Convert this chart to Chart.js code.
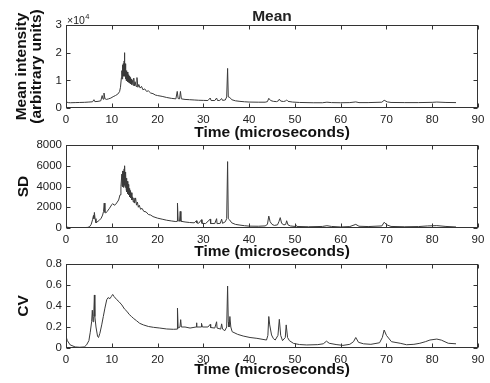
<!DOCTYPE html>
<html><head><meta charset="utf-8">
<script src="https://cdn.jsdelivr.net/npm/chart.js@4.4.1/dist/chart.umd.min.js"></script>
<style>
html,body{margin:0;padding:0;background:#fff;}
#wrap{position:relative;width:490px;height:383px;overflow:hidden;}
canvas{position:absolute;left:0;top:0;}
</style></head><body>
<div id="wrap">
<canvas id="c1" width="490" height="383"></canvas>
<canvas id="c2" width="490" height="383"></canvas>
<canvas id="c3" width="490" height="383"></canvas>
</div>
<script>
// ---------- DATA ----------
const timeTicks = [0,10,20,30,40,50,60,70,80,90];

const meanTime = [0,0.5,1,2,3,4,5,5.8,6.1,6.3,7,7.6,7.9,8.1,8.3,8.5,8.8,9.3,9.8,10.3,10.8,11.3,11.7,11.9,12.1,
 12.2,12.25,12.3,12.35,12.4,12.45,12.5,12.55,12.6,12.65,12.7,12.75,12.8,12.85,12.9,12.95,13.0,13.05,13.1,13.15,13.2,13.3,13.4,13.5,13.6,13.7,13.8,13.9,14.0,14.1,14.2,14.35,14.5,14.65,14.8,14.95,15.1,15.3,15.5,15.7,15.9,16.2,16.5,16.8,17.2,17.6,18,18.5,19,19.5,20,21,22,23,24,24.3,24.5,24.8,25.0,25.2,26,27,28,29,30,31,31.5,31.7,32.5,32.9,33.1,33.6,34,34.2,34.8,35.1,35.3,35.45,35.8,36.2,37,38,39,40,42,43.5,44.0,44.3,44.7,45.3,46,46.4,46.6,46.9,47.5,47.9,48.2,48.5,49.5,51,54,56,57,58,60,62,63.3,64,66,69,69.5,70.2,71,74,77,80,81,83,85.2];
const meanValues = [2200,1950,1900,1950,2000,2050,2150,2250,3000,2300,2400,2600,4500,3200,5400,3400,3100,3300,3600,4100,4500,5000,5900,7500,11000,
 13500,10500,14500,11000,15500,11500,16000,12000,15000,11500,17000,12000,20000,11500,16000,11000,15000,10500,14000,10000,13500,9800,13000,9500,12000,9300,11500,9000,11000,8800,10500,8500,10000,8200,10800,8000,9500,7800,11000,7500,8500,7200,7800,6600,6900,6000,6200,5400,5200,4700,4500,4200,3800,3500,3300,6000,3400,3300,6000,3300,3100,3000,2900,2800,2750,2700,3600,2700,2700,3600,2700,2750,3400,2750,2900,4000,14300,4000,3800,3000,2600,2400,2250,2150,2100,2100,2300,3500,2700,2400,2300,2600,3200,2500,2350,2500,2900,2400,2150,2000,1900,1900,2100,1950,1900,1950,2200,1950,1950,2100,2800,2200,2000,1950,1950,2050,2150,2000,1950];

const sdTime = [0,0.5,1,2,3,4,4.8,5.2,5.5,5.8,6.0,6.1,6.2,6.35,6.55,7.0,7.3,7.7,8.0,8.2,8.35,8.5,8.7,9.0,9.5,10.0,10.2,10.5,10.8,11.2,11.5,11.8,12.0,
 12.2,12.25,12.3,12.35,12.4,12.45,12.5,12.55,12.6,12.65,12.7,12.75,12.85,12.9,12.95,13.0,13.1,13.15,13.2,13.3,13.4,13.5,13.6,13.7,13.8,13.9,14.0,14.1,14.25,14.4,14.55,14.7,14.85,15.0,15.2,15.4,15.6,15.8,16.0,16.3,16.6,17.0,17.5,18.0,18.5,19.0,20,21,22,23,24,24.25,24.35,24.5,24.8,24.95,25.1,26,27,28,28.5,28.6,29,29.6,29.7,30.5,31.5,31.6,32.5,32.9,33.0,33.7,34.0,34.2,34.8,35.1,35.3,35.45,35.7,36.2,37,38,39,40,42,43.5,44.0,44.3,44.6,45.0,45.5,46.2,46.5,46.8,47.1,47.6,48.0,48.2,48.5,49,50,50.2,50.4,53,56,57,58,60,62,63.3,64,66,69,69.5,70.1,71,74,77,79,81,83,85.2];
const sdValues = [120,60,40,30,30,40,60,150,350,800,1200,900,1500,900,500,650,750,950,1250,1600,2400,1500,1450,1600,1900,2250,2350,2200,2250,2500,2700,3200,4000,
 5200,4000,5400,4100,5500,4000,5300,3900,5500,4200,5700,4100,6000,4000,5400,3900,5200,3700,4800,3500,4500,3300,4200,3200,3800,3000,3600,2900,3400,2700,3000,2500,2900,2400,2900,2200,2500,2000,2200,1800,1900,1600,1550,1300,1250,1100,950,850,750,680,620,650,2400,700,650,1600,650,580,530,500,700,480,460,800,450,430,850,430,430,900,420,450,850,450,600,900,6400,900,800,500,350,280,220,180,170,200,350,1150,600,350,250,300,600,1000,450,300,350,700,300,200,150,300,150,120,150,220,150,100,140,350,170,140,200,550,300,150,120,140,200,230,150,100];

const cvTime = [0,0.3,0.9,2,3,4,4.5,5.0,5.3,5.6,5.75,5.9,6.05,6.2,6.3,6.55,6.9,7.1,7.4,7.8,8.15,8.5,8.9,9.2,9.6,9.9,10.2,10.5,11.1,11.6,12.2,12.8,13.3,13.8,14.3,14.8,15.4,16.1,16.9,18,19.1,20.5,22,23.5,24.25,24.35,24.5,24.9,25.05,25.2,26,27.1,28.4,28.5,28.6,29.5,29.6,29.8,31,31.5,31.6,32.5,32.9,33.0,33.8,34.0,34.2,34.7,35.1,35.3,35.45,35.6,35.8,36.0,36.3,37.5,38.7,40.2,41.7,43.8,44.1,44.3,44.5,44.9,45.3,45.7,46.3,46.6,46.9,47.3,47.9,48.1,48.4,48.8,49.7,51,52.6,55,56.2,56.9,57.5,59,60.5,62,62.8,63.3,63.9,65,66.6,68.5,69.1,69.5,70,71.1,73,74.4,76,77.3,78.5,79.5,81,82,83.5,85.2];
const cvValues = [0.11,0.07,0.03,0.01,0.007,0.01,0.03,0.07,0.15,0.25,0.36,0.25,0.3,0.505,0.3,0.2,0.11,0.1,0.14,0.22,0.30,0.38,0.46,0.48,0.47,0.49,0.51,0.49,0.46,0.44,0.41,0.37,0.35,0.32,0.30,0.28,0.26,0.235,0.22,0.205,0.197,0.19,0.181,0.178,0.18,0.38,0.19,0.2,0.27,0.2,0.2,0.19,0.2,0.24,0.2,0.2,0.235,0.2,0.2,0.225,0.195,0.19,0.25,0.19,0.18,0.23,0.18,0.165,0.2,0.59,0.25,0.2,0.30,0.2,0.155,0.13,0.114,0.10,0.092,0.076,0.12,0.30,0.22,0.124,0.09,0.076,0.12,0.273,0.12,0.07,0.1,0.22,0.1,0.07,0.044,0.033,0.029,0.032,0.04,0.065,0.045,0.033,0.025,0.035,0.06,0.10,0.054,0.04,0.035,0.05,0.1,0.171,0.12,0.06,0.045,0.031,0.035,0.045,0.06,0.076,0.085,0.075,0.045,0.04];

const meanTicks = [0,10000,20000,30000];
const sdTicks = [0,2000,4000,6000,8000];
const cvTicks = [0,0.2,0.4,0.6,0.8];

// ---------- RENDER ----------
const FONT = '"Liberation Sans", Arial, Helvetica, sans-serif';
Chart.defaults.font.family = FONT;
const XH = 34;
const INK = '#222';

function pts(t, v){ return t.map((x,i)=>({x:x, y:v[i]})); }

const boxPlugin = {
  id: 'boxTicks',
  afterDraw(chart, args, opts) {
    const ctx = chart.ctx, a = chart.chartArea;
    const xs = chart.scales.x, ys = chart.scales.y;
    ctx.save();
    ctx.strokeStyle = '#333';
    ctx.lineWidth = 1;
    const L = Math.round(a.left)+0.5, R = Math.round(a.right)-0.5, T = Math.round(a.top)+0.5, B = Math.round(a.bottom)-0.5;
    ctx.strokeRect(L, T, R-L, B-T);
    const tl = 4;
    ctx.beginPath();
    xs.ticks.forEach(tk => {
      const px = Math.round(xs.getPixelForValue(tk.value))+0.5;
      ctx.moveTo(px, B); ctx.lineTo(px, B-tl);
      ctx.moveTo(px, T); ctx.lineTo(px, T+tl);
    });
    ys.ticks.forEach(tk => {
      const py = Math.round(ys.getPixelForValue(tk.value))+0.5;
      ctx.moveTo(L, py); ctx.lineTo(L+tl, py);
      ctx.moveTo(R, py); ctx.lineTo(R-tl, py);
    });
    ctx.stroke();
    if (opts && opts.title) {
      ctx.fillStyle = INK;
      ctx.font = 'bold 15.5px ' + FONT;
      ctx.textAlign = 'center';
      ctx.textBaseline = 'middle';
      ctx.fillText(opts.title, (a.left + a.right)/2, 17);
    }
    if (opts && opts.exponent) {
      ctx.fillStyle = INK;
      ctx.textAlign = 'left';
      ctx.textBaseline = 'alphabetic';
      ctx.font = '10.5px ' + FONT;
      ctx.fillText('\u00d710', a.left + 1, a.top - 1.5);
      const w = ctx.measureText('\u00d710').width;
      ctx.font = '7.5px ' + FONT;
      ctx.fillText(opts.exponent, a.left + 1 + w + 0.5, a.top - 6);
    }
    ctx.restore();
  }
};

function makeChart(id, c) {
  return new Chart(document.getElementById(id), {
    type: 'line',
    data: { datasets: [{ data: c.points, borderColor: '#3a3a3a', borderWidth: 1, pointRadius: 0, tension: 0, fill: false }] },
    options: {
      responsive: false, animation: false, events: [],
      layout: { padding: { top: c.top, right: 12, bottom: 383 - c.bottom - XH, left: 0 } },
      plugins: { legend: { display: false }, tooltip: { enabled: false }, title: { display: false },
                 boxTicks: { title: c.title || null, exponent: c.exponent || null } },
      scales: {
        x: {
          type: 'linear', min: 0, max: 90,
          afterFit: s => { s.height = XH; s.paddingLeft = 0; s.paddingRight = 0; s.paddingTop = 0; s.paddingBottom = 0; },
          afterBuildTicks: s => { s.ticks = timeTicks.map(v => ({ value: v })); },
          grid: { display: false, drawTicks: false }, border: { display: false },
          ticks: { padding: 5, color: INK, font: { size: 11.5 }, maxRotation: 0, autoSkip: false },
          title: { display: true, text: 'Time (microseconds)', color: '#111', font: { size: 15.5, weight: 'bold', lineHeight: 1 }, padding: { top: 0, bottom: c.xPad } }
        },
        y: {
          type: 'linear', min: c.yTicks[0], max: c.yTicks[c.yTicks.length-1],
          afterFit: s => { s.width = 66; s.paddingLeft = 0; s.paddingRight = 0; s.paddingTop = 0; s.paddingBottom = 0; },
          afterBuildTicks: s => { s.ticks = c.yTicks.map(v => ({ value: v })); },
          grid: { display: false, drawTicks: false }, border: { display: false },
          ticks: { padding: 4, color: INK, font: { size: 11.5 }, autoSkip: false, callback: c.fmt },
          title: { display: true, text: c.ytitle, color: '#111', font: { size: 15.5, weight: 'bold', lineHeight: 1 }, padding: { top: c.yPad, bottom: 0 } }
        }
      }
    },
    plugins: [boxPlugin]
  });
}

makeChart('c1', { points: pts(meanTime, meanValues), top: 25, bottom: 108, yTicks: meanTicks,
  fmt: v => String(v/10000), ytitle: ['Mean intensity', '(arbitrary units)'], yPad: 13.5, xPad: 1.75,
  title: 'Mean', exponent: '4' });
makeChart('c2', { points: pts(sdTime, sdValues), top: 145, bottom: 228, yTicks: sdTicks,
  fmt: v => String(v), ytitle: 'SD', yPad: 15.5, xPad: 2.25 });
makeChart('c3', { points: pts(cvTime, cvValues), top: 264, bottom: 348, yTicks: cvTicks,
  fmt: v => String(Math.round(v*10)/10), ytitle: 'CV', yPad: 16, xPad: 4.75 });
</script>
</body></html>
